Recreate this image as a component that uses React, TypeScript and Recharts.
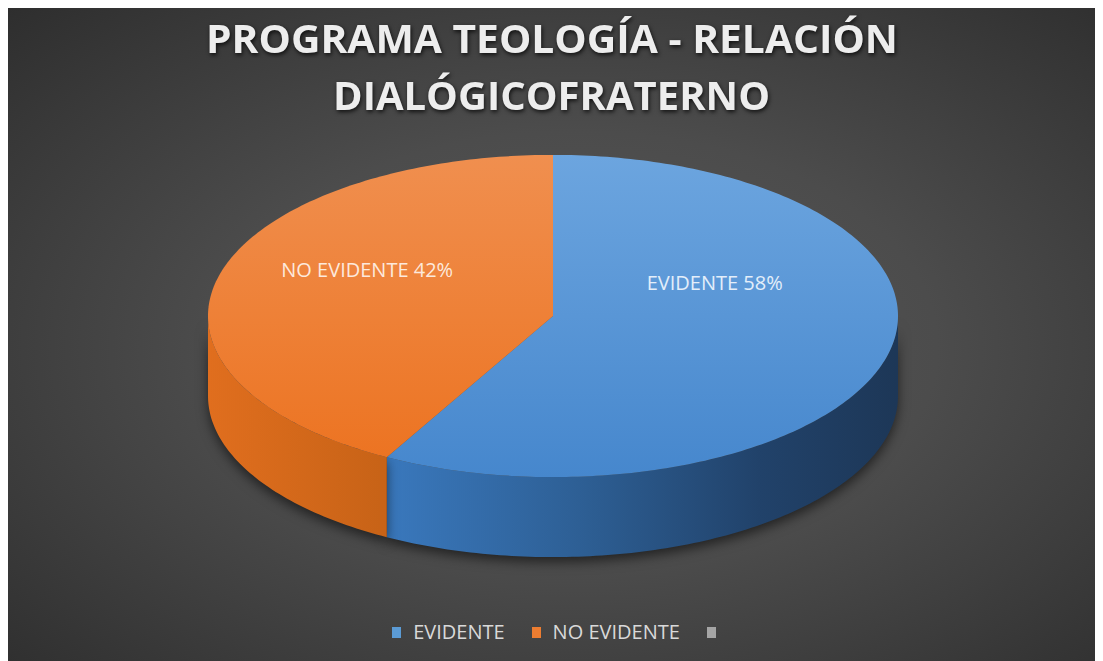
import { PieChart, Pie, Cell, Legend } from 'recharts';

// chart data
const categories = ['EVIDENTE', 'NO EVIDENTE', ''];
const percents = [58, 42, 0];
const sliceColors = ['#5b9bd5', '#ed7d31', '#a5a5a5'];
const titleLines = ['PROGRAMA TEOLOGÍA - RELACIÓN', 'DIALÓGICOFRATERNO'];

const data = categories.map((name, i) => ({ name, value: percents[i] }));

const W = 1092;
const H = 653;
const CX = 545;
const CY = 308;
const R = 345;
const TILT = 0.467; // vertical squash of the disc
const DEPTH = 80; // thickness of the 3d pie

// shading for each slice colour: top face (vertical) and side wall (horizontal)
const shades: Record<string, { top: string[]; wall: [number, string][] }> = {
  '#5b9bd5': {
    top: ['#6ca5df', '#4687cd'],
    wall: [[0, '#4282c8'], [0.25, '#3a79be'], [0.55, '#2d5e93'], [0.8, '#21426a'], [1, '#1d3757']],
  },
  '#ed7d31': {
    top: ['#f08f4f', '#ec721f'],
    wall: [[0, '#e06e1e'], [0.25, '#c86317'], [1, '#a85212']],
  },
  '#a5a5a5': {
    top: ['#b5b5b5', '#9a9a9a'],
    wall: [[0, '#8a8a8a'], [1, '#5a5a5a']],
  },
};

function pt(cx: number, cy: number, r: number, deg: number, dy = 0) {
  const a = (deg * Math.PI) / 180;
  return [cx + r * Math.cos(a), cy - r * TILT * Math.sin(a) + dy];
}

function arc(cx: number, cy: number, r: number, from: number, to: number, dy = 0) {
  const n = Math.max(2, Math.ceil(Math.abs(to - from)));
  const out: number[][] = [];
  for (let i = 0; i <= n; i++) out.push(pt(cx, cy, r, from + ((to - from) * i) / n, dy));
  return out;
}

const toPath = (pts: number[][]) => pts.map((p, i) => `${i ? 'L' : 'M'}${p[0].toFixed(2)},${p[1].toFixed(2)}`).join(' ');

function Slice3D(props: any) {
  const { cx, cy, outerRadius, startAngle, endAngle, fill } = props;
  if (Math.abs(endAngle - startAngle) < 0.01) return null;
  const id = String(fill).replace('#', '');
  const s = shades[fill] || shades['#a5a5a5'];
  const lo = Math.min(startAngle, endAngle);
  const hi = Math.max(startAngle, endAngle);

  // front facing walls = angles where sin < 0
  const walls: string[] = [];
  for (let k = -2; k <= 1; k++) {
    const a = Math.max(lo, 180 + 360 * k);
    const b = Math.min(hi, 360 + 360 * k);
    if (b > a) {
      const pts = [...arc(cx, cy, outerRadius, a, b), ...arc(cx, cy, outerRadius, b, a, DEPTH)];
      walls.push(toPath(pts) + ' Z');
    }
  }
  const top = `M${cx},${cy} ` + toPath(arc(cx, cy, outerRadius, startAngle, endAngle)).replace('M', 'L') + ' Z';

  return (
    <g>
      <defs>
        <linearGradient id={`top-${id}`} gradientUnits="userSpaceOnUse" x1={0} y1={cy - outerRadius * TILT} x2={0} y2={cy + outerRadius * TILT}>
          <stop offset="0" stopColor={s.top[0]} />
          <stop offset="1" stopColor={s.top[1]} />
        </linearGradient>
        <linearGradient id={`wall-${id}`} gradientUnits="userSpaceOnUse" x1={cx - outerRadius} y1={0} x2={cx + outerRadius} y2={0}>
          {s.wall.map(([o, c]) => (
            <stop key={o} offset={o} stopColor={c} />
          ))}
        </linearGradient>
      </defs>
      {walls.map((d, i) => (
        <path key={i} d={d} fill={`url(#wall-${id})`} style={{ filter: 'drop-shadow(0px 5px 6px rgba(0,0,0,0.55))' }} />
      ))}
      <path d={top} fill={`url(#top-${id})`} />
    </g>
  );
}

const labelTint: Record<string, string> = { '#5b9bd5': '#e3eefa', '#ed7d31': '#fde9dc' };

function renderLabel(props: any) {
  const { cx, cy, outerRadius, midAngle, percent, name, fill } = props;
  if (!percent) return null;
  const a = (midAngle * Math.PI) / 180;
  const x = cx + 0.52 * outerRadius * Math.cos(a) - 12;
  const y = cy - 0.15 * outerRadius * TILT * Math.sin(a) - 40;
  return (
    <text x={x} y={y} textAnchor="middle" dominantBaseline="central" fill={labelTint[fill] || '#eee'}
      style={{ fontFamily: '"Open Sans", sans-serif', fontSize: 20 }}>
      {`${name} ${Math.round(percent * 100)}%`}
    </text>
  );
}

function renderLegend(props: any) {
  const items = [...(props.payload || [])].sort(
    (a: any, b: any) => categories.indexOf(a.value) - categories.indexOf(b.value),
  );
  return (
    <div style={{ display: 'flex', justifyContent: 'center', alignItems: 'center', gap: 27 }}>
      {items.map((p: any, i: number) => (
        <div key={i} style={{ display: 'flex', alignItems: 'center', gap: 12 }}>
          <span style={{ width: 9, height: 11, background: p.color, display: 'inline-block' }} />
          {p.value ? (
            <span style={{ color: '#d9d9d9', fontFamily: '"Open Sans", sans-serif', fontSize: 20, lineHeight: '24px' }}>{p.value}</span>
          ) : null}
        </div>
      ))}
    </div>
  );
}

export default function App() {
  return (
    <div
      style={{
        position: 'relative',
        width: W,
        height: H,
        background: 'radial-gradient(ellipse at 52% 52%, #585858 0%, #4c4c4c 45%, #2e2e2e 100%)',
      }}
    >
      <PieChart width={W} height={H} margin={{ top: 0, right: 0, bottom: 0, left: 0 }}>
        <Pie
          data={data}
          dataKey="value"
          nameKey="name"
          cx={CX}
          cy={CY}
          outerRadius={R}
          startAngle={90}
          endAngle={-270}
          stroke="none"
          shape={Slice3D}
          label={renderLabel}
          labelLine={false}
          isAnimationActive={false}
        >
          {data.map((d, i) => (
            <Cell key={d.name + i} fill={sliceColors[i]} />
          ))}
        </Pie>
        <Legend content={renderLegend} wrapperStyle={{ top: 612, left: 0, width: W }} />
      </PieChart>
      <svg width={W} height={130} style={{ position: 'absolute', top: 0, left: 0, pointerEvents: 'none' }}>
        <g fill="#ededed" style={{ fontFamily: '"Open Sans", sans-serif', fontWeight: 700, fontSize: 39, filter: 'drop-shadow(1px 2px 2px rgba(0,0,0,0.75))' }}>
          <text x={198} y={45} textLength={692} lengthAdjust="spacingAndGlyphs">{titleLines[0]}</text>
          <text x={325} y={102} textLength={437} lengthAdjust="spacingAndGlyphs">{titleLines[1]}</text>
        </g>
      </svg>
    </div>
  );
}
